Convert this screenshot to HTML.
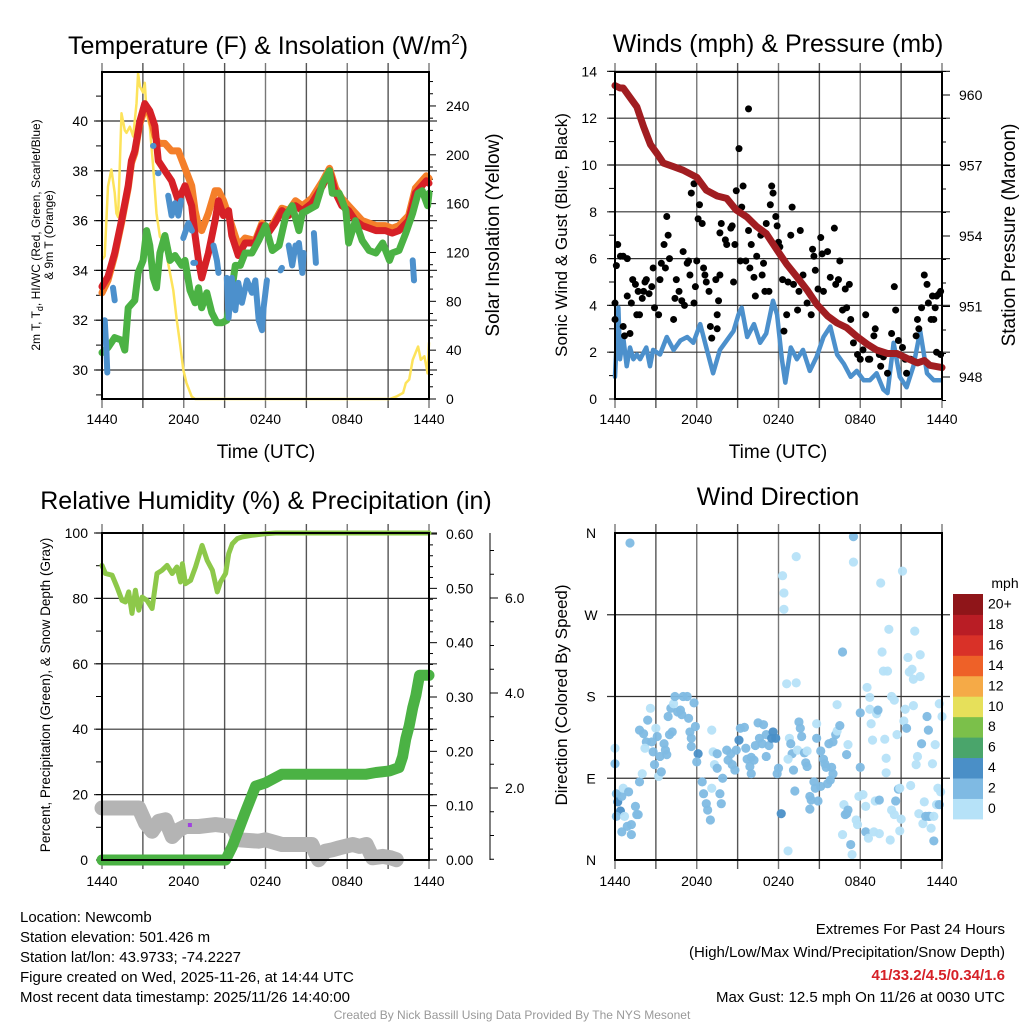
<!DOCTYPE html>
<html><head><meta charset="utf-8"><style>
html,body{margin:0;padding:0;background:#fff;}
svg{display:block;font-family:"Liberation Sans",Arial,sans-serif;}
</style></head><body>
<svg id="c" width="1024" height="1024" viewBox="0 0 1024 1024" xmlns="http://www.w3.org/2000/svg">
<rect x="0" y="0" width="1024" height="1024" fill="#fff"/>
<text x="268" y="54" font-size="25" text-anchor="middle">Temperature (F) &amp; Insolation (W/m<tspan font-size="15" dy="-10">2</tspan><tspan dy="10">)</tspan></text>
<text x="778" y="52" font-size="25" text-anchor="middle">Winds (mph) &amp; Pressure (mb)</text>
<text x="266" y="509" font-size="25" text-anchor="middle">Relative Humidity (%) &amp; Precipitation (in)</text>
<text x="778" y="505" font-size="25" text-anchor="middle">Wind Direction</text>
<text transform="translate(40,235) rotate(-90)" font-size="12" text-anchor="middle">2m T, T<tspan font-size="9" dy="3">d</tspan><tspan dy="-3">, HI/WC (Red, Green, Scarlet/Blue)</tspan></text>
<text transform="translate(53,235) rotate(-90)" font-size="12" text-anchor="middle">&amp; 9m T (Orange)</text>
<text transform="translate(499,235) rotate(-90)" font-size="19" text-anchor="middle">Solar Insolation (Yellow)</text>
<text x="266" y="458" font-size="19" text-anchor="middle">Time (UTC)</text>
<text transform="translate(567,235) rotate(-90)" font-size="17" text-anchor="middle">Sonic Wind &amp; Gust (Blue, Black)</text>
<text transform="translate(1015,235) rotate(-90)" font-size="19" text-anchor="middle">Station Pressure (Maroon)</text>
<text x="778" y="458" font-size="19" text-anchor="middle">Time (UTC)</text>
<text transform="translate(50,695) rotate(-90)" font-size="13.5" text-anchor="middle">Percent, Precipitation (Green), &amp; Snow Depth (Gray)</text>
<text transform="translate(567,695) rotate(-90)" font-size="17" text-anchor="middle">Direction (Colored By Speed)</text>
<text x="1005" y="588" font-size="14" text-anchor="middle">mph</text>
<g font-size="15">
<text x="20" y="922">Location: Newcomb</text>
<text x="20" y="942">Station elevation: 501.426 m</text>
<text x="20" y="962">Station lat/lon: 43.9733; -74.2227</text>
<text x="20" y="982">Figure created on Wed, 2025-11-26, at 14:44 UTC</text>
<text x="20" y="1002">Most recent data timestamp: 2025/11/26 14:40:00</text>
</g>
<g font-size="15" text-anchor="end">
<text x="1005" y="934">Extremes For Past 24 Hours</text>
<text x="1005" y="957">(High/Low/Max Wind/Precipitation/Snow Depth)</text>
<text x="1005" y="980" font-weight="bold" fill="#d62027">41/33.2/4.5/0.34/1.6</text>
<text x="1005" y="1002">Max Gust: 12.5 mph On 11/26 at 0030 UTC</text>
</g>
<text x="512" y="1019" font-size="12" fill="#999" text-anchor="middle">Created By Nick Bassill Using Data Provided By The NYS Mesonet</text>
</svg>
<script>
// ---- Temperature panel data (hours since 1440 UTC) ----
const redH=[0,0.44,0.93,1.43,1.92,2.16,2.41,2.78,3.14,3.51,3.88,4.13,4.62,5.11,5.6,6.09,6.58,6.83,7.08,7.32,7.81,8.3,8.55,8.92,9.29,9.53,10.0,10.5,11.25,11.74,12.2,12.7,13.2,13.7,14.2,14.7,15.4,16.2,16.7,17.15,17.6,18.1,18.6,19.1,20.1,20.8,21.3,21.8,22.5,23.0,23.8,24.0];
const redT=[33.35,33.75,34.7,36.0,37.4,38.4,38.8,40.0,40.7,40.4,39.8,38.4,38.0,37.6,36.8,37.4,36.6,35.4,34.4,33.7,34.7,36.0,36.8,36.2,36.4,35.4,34.6,35.1,35.1,35.8,35.5,35.9,36.4,36.2,36.6,36.4,36.7,37.4,38.0,37.1,36.6,36.4,36.0,35.8,35.6,35.6,35.5,35.6,36.0,37.1,37.6,37.5];
const orangeH=[0,0.44,0.93,1.43,1.92,2.16,2.41,2.78,3.14,3.51,3.88,4.13,4.62,5.11,5.6,6.09,6.58,6.83,7.08,7.32,7.81,8.3,8.55,8.92,9.29,9.53,10.0,10.5,11.25,11.74,12.2,12.7,13.2,13.7,14.2,14.7,15.4,16.2,16.7,17.15,17.6,18.1,18.6,19.1,20.1,20.8,21.3,21.8,22.5,23.0,23.8,24.0];
const orangeT=[33.1,33.6,34.6,35.9,37.3,38.3,38.7,39.9,40.5,40.3,39.4,39.1,39.1,38.8,38.8,38.1,37.4,36.4,35.8,35.6,36.3,37.2,37.2,36.8,36.2,35.8,35.0,35.3,35.2,35.9,35.6,36.0,36.5,36.4,36.8,36.6,36.9,37.6,38.1,37.3,36.9,36.6,36.3,36.0,35.8,35.8,35.7,35.8,36.2,37.3,37.8,37.7];
const greenH=[0,0.44,0.93,1.43,1.67,1.92,2.41,2.65,3.02,3.27,3.51,3.76,4.0,4.25,4.62,4.99,5.36,5.85,6.09,6.46,6.83,7.08,7.32,7.69,8.06,8.43,8.8,9.16,9.53,9.78,10.15,10.5,11.0,11.5,12.0,12.5,13.0,13.5,13.96,14.45,14.7,15.06,15.7,16.2,16.7,16.9,17.4,17.9,18.1,18.6,19.1,19.6,20.1,20.6,21.1,21.3,21.8,22.3,22.8,23.2,23.5,23.9,24.0];
const greenT=[30.7,30.9,31.3,31.2,30.8,32.5,32.8,33.9,34.4,35.6,35.0,33.7,33.3,34.7,35.4,34.4,34.6,34.2,34.4,33.2,32.7,33.3,32.5,33.1,32.3,31.9,31.9,32.0,33.2,34.2,34.2,34.7,34.7,35.2,35.8,34.8,35.0,36.2,36.6,35.6,36.3,36.4,36.6,37.5,38.0,37.1,37.1,36.4,35.1,36.0,35.2,34.8,34.7,35.1,34.4,34.7,34.8,35.5,36.3,37.1,37.2,36.6,37.1];
const blueH=[0.2,0.32,0.39,null,0.81,0.93,null,3.74,3.78,null,4.11,4.15,null,4.86,5.11,5.36,5.6,5.8,null,5.97,6.34,6.6,null,6.7,6.83,null,8.18,8.43,8.55,null,9.16,9.29,9.53,9.78,10.0,10.27,10.64,11.0,11.25,11.5,11.74,11.86,12.1,null,13.1,13.2,null,13.7,13.96,14.2,null,14.45,14.7,14.8,null,15.55,15.7,null,22.8,22.9];
const blueT=[32.0,30.8,29.9,null,33.3,32.8,null,39.0,39.0,null,37.9,37.9,null,37.0,36.2,36.7,36.2,36.8,null,35.3,35.9,35.6,null,34.3,34.3,null,35.0,34.4,33.9,null,33.7,32.1,33.7,32.4,33.5,32.7,33.6,33.1,33.6,32.0,31.6,32.5,33.6,null,34.0,34.1,null,35.0,34.2,35.0,null,35.1,33.9,34.7,null,35.5,34.3,null,34.4,33.6];
const solarH=[0,0.2,0.44,0.69,0.93,1.06,1.18,1.43,1.67,1.8,2.04,2.29,2.53,2.65,2.78,3.02,3.14,3.27,3.51,3.76,4.0,4.25,4.62,4.86,5.23,5.48,5.72,5.97,6.2,6.58,6.83,21.1,21.6,22.1,22.3,22.55,22.8,23.2,23.4,23.66,23.9,24.0];
const solarW=[114,117,174,188,169,152,149,234,220,218,223,215,242,267,256,251,259,234,223,190,152,133,128,111,89,65,46,24,13,2,0,0,2,5,13,16,32,43,32,35,21,46];
const tempTicks=[30,32,34,36,38,40];
const solarTicks=[0,40,80,120,160,200,240];
const timeLabels=["1440","2040","0240","0840","1440"];
// ---- Wind panel data ----
const presH=[0,0.37,0.6,1.1,1.6,2.1,2.6,3.1,3.55,4.3,5.0,6.0,6.7,7.5,8.2,8.9,9.7,10.4,11.1,11.9,12.6,13.3,14.1,14.8,15.6,16.3,17.0,17.8,18.5,19.2,20.0,20.7,21.4,22.2,22.7,23.1,24];
const presMb=[960.4,960.3,960.3,959.9,959.5,958.65,957.9,957.5,957.1,956.95,956.8,956.5,955.95,955.7,955.6,955.1,954.8,954.4,954.1,953.4,952.8,952.3,951.7,951.1,950.6,950.3,950.1,949.7,949.4,949.15,949.0,949.0,948.8,948.6,948.7,948.5,948.4];
const windH=[0,0.12,0.25,0.37,0.6,0.86,1.1,1.35,1.6,1.84,2.3,2.57,2.8,3.3,3.8,4.3,4.8,5.3,5.75,6.25,6.7,7.2,7.7,8.2,8.7,9.06,9.3,9.7,10.2,10.65,11.1,11.6,11.9,12.25,12.5,12.9,13.35,13.8,14.3,14.8,15.3,15.8,16.3,16.8,17.3,17.75,18.25,18.7,19.2,19.7,20.0,20.45,20.9,21.4,21.9,22.4,22.9,23.4,23.9];
const windMph=[0.95,2.4,3.9,1.7,2.65,1.4,2.2,1.7,1.9,1.7,2.2,1.4,2.1,1.9,2.65,2.1,2.5,2.65,2.4,3.2,2.2,1.1,2.1,2.5,2.9,3.6,3.9,2.65,3.2,2.4,2.8,4.2,3.6,1.7,0.7,2.2,1.7,2.1,1.2,1.8,2.65,3.1,1.9,1.5,0.95,1.2,0.8,0.8,1.1,0.4,0.25,2.4,0.95,0.5,1.4,2.9,1.1,0.8,0.8];
const gustH=[0,0,0.1,0.2,0.4,0.6,0.9,0.6,0.7,0.9,1.1,1.2,1.3,1.5,1.6,1.7,1.8,2.0,2.1,2.2,2.3,2.5,2.7,2.8,2.9,3.2,3.3,3.4,3.6,3.7,3.8,3.9,4.0,4.3,4.4,4.5,4.7,4.9,5.0,5.1,5.3,5.4,5.5,5.6,5.8,5.8,5.9,6.0,6.1,6.2,6.4,6.5,6.6,6.7,6.9,7.0,7.1,7.4,7.5,7.6,7.7,7.5,7.7,7.8,8.1,8.2,8.5,8.6,8.7,8.8,8.9,9.1,9.2,9.3,9.4,9.6,9.8,9.8,9.9,10.0,10.2,10.3,10.4,10.7,10.8,10.9,11.0,11.1,11.3,11.4,11.5,11.6,11.8,11.9,12.0,12.1,12.3,12.4,12.6,12.7,12.9,13.0,13.1,13.4,13.5,13.6,13.8,14.1,14.4,14.5,14.6,14.7,14.9,15.1,15.2,15.3,15.6,15.8,16.1,16.2,16.4,16.5,16.7,16.9,17.0,17.2,17.3,17.5,17.8,18.0,18.2,18.4,18.6,18.7,19.0,19.1,19.4,19.5,19.7,20.0,20.3,20.5,20.6,20.8,21.1,21.3,21.4,21.7,22.1,22.2,22.3,22.5,22.7,22.9,23.0,23.2,23.3,23.4,23.5,23.6,23.8,23.9,23.6,23.9];
const gustMph=[3.4,4.1,5.7,6.6,6.1,6.1,6.0,3.1,2.7,4.4,2.8,4.1,5.1,4.9,3.6,4.6,3.6,4.3,4.6,5.0,5.1,4.5,4.8,5.6,3.9,3.6,5.1,5.8,6.6,5.6,7.8,7.0,6.0,3.4,4.3,5.1,4.6,4.2,6.3,4.0,5.8,5.9,5.3,8.8,9.2,4.1,4.8,5.9,7.7,8.3,7.5,5.6,5.3,5.0,4.6,3.1,2.6,5.1,3.0,4.2,5.3,3.6,7.1,7.5,6.8,6.6,7.3,7.4,5.0,6.6,8.9,10.7,5.9,8.2,9.1,5.9,12.4,7.2,5.6,6.6,5.2,4.4,6.1,7.0,5.3,5.8,4.6,7.5,4.6,8.3,9.1,8.8,7.8,7.4,6.7,6.5,5.1,2.9,3.6,5.0,7.0,8.2,4.9,3.8,4.6,7.2,5.3,4.1,3.6,6.4,6.1,5.5,4.7,6.9,6.2,4.6,6.3,5.2,7.3,4.9,5.1,5.9,3.8,4.7,3.9,4.9,3.4,2.4,1.9,1.7,2.1,3.6,1.7,1.7,2.7,3.0,1.9,1.4,1.8,1.1,2.8,4.8,3.8,2.5,2.2,1.7,1.1,1.7,2.7,3.4,3.0,3.9,5.3,4.9,4.1,3.4,4.4,3.4,3.9,4.4,4.5,4.6,2.0,1.9];
const windTicks=[0,2,4,6,8,10,12,14];
const presTicks=[948,951,954,957,960];
// ---- RH panel data ----
const rhH=[0,0.25,0.74,1.1,1.47,1.72,1.96,2.2,2.45,2.7,2.94,3.3,3.68,4.04,4.4,4.78,5.15,5.5,5.76,5.9,6.13,6.5,6.86,7.35,7.72,8.1,8.46,8.7,9.07,9.3,9.56,9.93,10.3,11.0,12.0,12.75,24];
const rhPct=[90.1,87.6,87.1,83.5,79.4,78.9,82.0,75.4,82.5,76.4,80.4,79.4,76.9,87.6,88.6,90.1,87.6,89.6,85.0,90.6,84.5,85.5,89.6,96.2,91.6,88.6,82.0,85.0,87.6,93.7,96.7,98.3,98.8,99.3,99.8,100,100];
const precipH=[0,9.07,9.56,10.5,11.27,12.0,13.2,14.46,19.4,20.1,21.1,21.8,22.06,22.3,22.55,22.8,23.04,23.3,24];
const precipIn=[0,0,0.025,0.087,0.136,0.142,0.158,0.158,0.158,0.161,0.164,0.17,0.19,0.223,0.247,0.28,0.303,0.34,0.34];
const snowH=[0,2.7,3.19,3.68,4.17,4.66,5.15,5.64,6.13,7.1,8.33,9.56,10.05,11.5,12.0,13.2,15.4,15.9,16.4,16.9,17.4,18.4,18.9,19.4,19.85,20.6,21.2,21.6];
const snowIn=[1.58,1.58,1.26,1.09,1.30,1.33,0.98,1.12,1.19,1.19,1.23,1.19,0.91,0.88,0.91,0.81,0.81,0.49,0.67,0.70,0.74,0.81,0.77,0.81,0.53,0.56,0.53,0.49];
const pctTicks=[0,20,40,60,80,100];
const precipTicks=[0,0.1,0.2,0.3,0.4,0.5,0.6];
const snowTicks=[2,4,6];
// ---- Wind direction data ----
const dirH=[1.1,0,0,0.1,0.2,0.4,0.1,0.5,0.6,1.0,0.7,0.5,0.9,1.2,1.2,1.5,1.6,1.7,1.8,2.0,1.8,2.1,2.3,2.2,2.4,2.6,2.7,2.8,2.9,3.0,3.1,3.2,3.4,3.3,3.6,3.7,3.8,3.9,4.0,4.2,4.1,4.3,4.4,4.6,4.8,4.9,5.0,5.3,5.4,5.5,5.6,5.6,5.8,5.9,6.1,6.0,6.4,6.5,6.7,6.8,7.0,7.1,7.2,7.3,7.1,7.5,7.5,7.7,7.8,7.9,8.2,8.3,8.5,8.6,8.8,8.9,9.1,9.2,9.5,9.6,9.7,9.9,10.0,10.2,10.0,10.3,10.5,10.6,10.8,10.9,11.1,11.1,11.3,11.5,11.6,11.8,11.9,12.0,12.2,12.3,12.4,12.4,12.6,12.8,12.9,13.0,12.7,13.1,13.2,13.3,13.3,13.5,13.6,13.7,13.4,13.9,14.1,14.0,14.1,14.3,14.4,14.3,14.6,14.7,14.8,14.8,14.9,15.1,15.1,15.3,15.4,15.5,15.6,15.7,15.8,15.9,16.0,16.0,16.2,16.3,16.3,16.5,16.7,16.8,17.0,16.9,17.1,17.0,17.1,16.7,17.3,17.4,17.5,17.5,17.7,17.8,17.9,18.0,18.0,18.2,18.4,18.4,18.5,18.6,18.7,18.7,18.8,18.9,19.0,19.1,19.2,19.3,19.4,19.4,19.5,19.6,19.7,19.8,19.9,19.9,20.0,20.1,20.2,20.3,20.3,20.5,20.5,20.6,20.7,20.8,20.9,20.9,21.0,21.1,21.2,21.3,21.4,21.5,21.6,21.7,21.8,21.9,21.9,22.0,22.1,22.2,22.3,22.4,22.4,22.5,22.6,22.7,22.8,22.9,23.0,23.0,23.1,23.2,23.3,23.4,23.4,23.5,23.6,23.7,23.8,23.8,23.9,24.0,12.7];
const dirDeg=[349,123,106,73,64,54,48,70,79,75,48,31,37,39,28,59,50,50,86,95,143,139,130,123,154,167,130,119,105,145,136,92,97,114,128,121,116,158,138,141,167,172,180,163,165,160,180,180,156,141,134,125,173,147,117,108,86,73,62,55,44,143,119,105,79,117,101,73,62,90,121,110,117,105,99,121,132,145,146,123,111,103,113,110,95,126,151,134,128,149,138,114,126,134,141,134,95,101,51,313,294,276,194,134,128,117,111,99,76,195,334,152,145,136,121,118,120,107,103,70,66,56,86,79,134,150,65,81,120,111,106,102,84,128,88,102,95,130,138,171,142,148,229,61,51,50,55,116,127,28,17,6,356,328,44,39,70,162,102,72,59,31,190,24,179,166,150,132,31,65,161,165,29,66,305,229,208,133,112,96,208,254,22,55,180,176,50,65,138,78,32,79,45,318,153,166,145,223,207,82,210,199,170,252,105,114,51,202,226,128,40,64,48,158,143,48,48,35,106,48,21,127,61,79,172,61,75,158,10];
const dirSpd=[3,1,3,3,5,5,3,3,1,3,1,3,3,3,3,3,3,3,3,1,3,3,3,1,3,1,3,3,3,1,3,1,3,3,3,3,3,3,3,3,3,1,3,3,3,3,3,3,3,3,3,3,3,3,5,3,3,3,3,3,3,1,1,1,1,3,3,3,3,3,3,3,3,3,3,3,5,3,3,3,3,3,3,3,3,3,3,3,3,3,3,3,3,5,5,5,3,3,5,1,1,1,1,1,3,3,1,3,3,1,1,3,3,3,1,3,1,3,3,3,3,3,3,3,3,1,3,3,3,3,3,3,3,3,3,3,3,3,3,1,1,3,3,1,3,3,3,3,1,1,3,1,3,1,1,1,1,3,3,1,1,3,1,1,1,1,1,1,1,1,1,3,1,3,1,1,1,1,1,1,1,1,1,1,1,1,1,3,1,3,1,1,1,1,1,1,3,1,1,1,1,1,1,1,1,1,1,1,1,3,1,1,3,3,3,3,3,1,1,1,3,1,1,1,1,3,1,1,1,1,1,1];
const dirLabels=["N","E","S","W","N"];
const cbLabels=["0","2","4","6","8","10","12","14","16","18","20+"];
const cbColors=["#b6e2f8","#7fbae3","#4a8fc7","#4aa56b","#7bc04a","#e6e05a","#f5aa47","#ee6128","#d93128","#b91d25","#8f1519"];

const svg=document.getElementById('c');
const NS="http://www.w3.org/2000/svg";
function mk(tag,attrs){const e=document.createElementNS(NS,tag);for(const k in attrs)e.setAttribute(k,attrs[k]);svg.appendChild(e);return e;}
function pathFrom(xs,ys,fx,fy){let d="",pen=false;for(let i=0;i<xs.length;i++){if(xs[i]===null||ys[i]===null){pen=false;continue;}d+=(pen?"L":"M")+fx(xs[i]).toFixed(1)+","+fy(ys[i]).toFixed(1);pen=true;}return d;}

const P1={x0:102,x1:429,top:72,bot:399};
const P2={x0:615,x1:942,top:72,bot:399};
const P3={x0:102,x1:429,top:533,bot:860};
const P4={x0:615,x1:942,top:533,bot:860};
const xT=h=>P1.x0+h*(P1.x1-P1.x0)/24;
const xW=h=>P2.x0+h*(P2.x1-P2.x0)/24;
const yTemp=t=>370-(t-30)*24.9;
const ySolar=w=>399-w*1.221;
const yWind=w=>399-w*23.4;
const yPres=p=>95+(960-p)*23.5;
const yPct=v=>860-v*3.27;
const yPrecip=r=>860-r*543.3;
const ySnow=s=>883-s*47.5;
const yDir=d=>860-d*0.9083;

function grid(P,yLines,name){
  for(let k=0;k<=8;k++){const x=P.x0+k*(P.x1-P.x0)/8;
    const l=mk('line',{x1:x,y1:P.top-9,x2:x,y2:P.bot+9,stroke:(k%2?'#555':'#777'),'stroke-width':1.4});
    
    }
  yLines.forEach(y=>{const l=mk('line',{x1:P.x0-8,y1:y,x2:P.x1+8,y2:y,stroke:'#333','stroke-width':1.2});
    
    });
}
function frame(P,name){const r=mk('rect',{x:P.x0,y:P.top,width:P.x1-P.x0,height:P.bot-P.top,fill:'none',stroke:'#000','stroke-width':2});
  
  }
function txt(x,y,s,size,anchor,name){const t=mk('text',{x:x,y:y,'font-size':size,'text-anchor':anchor});t.textContent=s;
  
  return t;}
function tick(x1,y1,x2,y2,name){const l=mk('line',{x1:x1,y1:y1,x2:x2,y2:y2,stroke:'#000','stroke-width':1});
  
  }
function line(xs,ys,fx,fy,color,w,name){const p=mk('path',{d:pathFrom(xs,ys,fx,fy),fill:'none',stroke:color,'stroke-width':w,'stroke-linejoin':'round','stroke-linecap':'round'});
  
  }
function xLabels(P,y,name){timeLabels.forEach((s,i)=>txt(P.x0+i*(P.x1-P.x0)/4,y,s,14,'middle',name));}

// ===== Panel 1 =====
grid(P1,tempTicks.map(yTemp),'temp');
for(let t=29;t<=41;t++){tick(P1.x0-6,yTemp(t),P1.x0,yTemp(t),'temp-minor-tick');}
for(let w=0;w<=260;w+=10){tick(P1.x1,ySolar(w),P1.x1+(w%40?4:7),ySolar(w),'solar-tick');}
tempTicks.forEach(t=>txt(88,yTemp(t)+5,String(t),14,'end','temp-tick-label'));
solarTicks.forEach(w=>txt(446,ySolar(w)+5,String(w),14,'start','solar-tick-label'));
xLabels(P1,424,'temp-x-tick-label');
line(solarH,solarW,xT,ySolar,'#fde35b',2.5,'solar-insolation-line');
line(orangeH,orangeT,xT,yTemp,'#f47f2a',7,'temp-9m-line');
line(redH,redT,xT,yTemp,'#d62027',7,'temp-2m-line');
line(greenH,greenT,xT,yTemp,'#4bb244',7,'dewpoint-line');
line(blueH,blueT,xT,yTemp,'#4c90cc',6,'heat-index-windchill-line');
frame(P1,'temp');

// ===== Panel 2 =====
grid(P2,windTicks.slice(1).map(yWind),'wind');
for(let w=0;w<=14;w+=1){tick(P2.x0-6,yWind(w),P2.x0,yWind(w),'wind-minor-tick');}
for(let p=947;p<=961;p++){tick(P2.x1,yPres(p),P2.x1+(p%3?4:8),yPres(p),'pressure-tick');}
windTicks.forEach(w=>txt(597,yWind(w)+5,String(w),14,'end','wind-tick-label'));
presTicks.forEach(p=>txt(959,yPres(p)+5,String(p),14,'start','pressure-tick-label'));
xLabels(P2,424,'wind-x-tick-label');
line(windH,windMph,xW,yWind,'#4c90cc',4.5,'sonic-wind-line');
for(let i=0;i<gustH.length;i++){const c=mk('circle',{cx:xW(gustH[i]),cy:yWind(gustMph[i]),r:3.5,fill:'#000'});
  
  }
line(presH,presMb,xW,yPres,'#a11d21',7,'pressure-line');
frame(P2,'wind');

// ===== Panel 3 =====
grid(P3,pctTicks.slice(1).map(yPct),'rh');
for(let v=0;v<=100;v+=10){tick(P3.x0-6,yPct(v),P3.x0,yPct(v),'pct-minor-tick');}
for(let r=0;r<=0.6001;r+=0.02){tick(P3.x1,yPrecip(r),P3.x1+(Math.round(r*100)%10?4:8),yPrecip(r),'precip-tick');}
pctTicks.forEach(v=>txt(88,yPct(v)+5,String(v),14,'end','pct-tick-label'));
precipTicks.forEach(r=>txt(446,yPrecip(r)+5,r.toFixed(2),14,'start','precip-tick-label'));
tick(490,P3.top,490,P3.bot,'snow-axis-line');
for(let s=0.5;s<=7.01;s+=0.5){const y=ySnow(s);if(y>=P3.top&&y<=P3.bot)tick(490,y,Number.isInteger(s/2)?498:494,y,'snow-tick');}
snowTicks.forEach(s=>txt(505,ySnow(s)+5,s.toFixed(1),14,'start','snow-tick-label'));
xLabels(P3,886,'rh-x-tick-label');
line(snowH,snowIn,xT,ySnow,'#b4b4b4',15,'snow-depth-line');
line(rhH,rhPct,xT,yPct,'#8dc84a',5,'rh-line');
line(precipH,precipIn,xT,yPrecip,'#4bb244',11,'precip-line');
const pd=mk('rect',{x:xT(6.45)-2,y:yPct(10.7)-2,width:4,height:4,fill:'#a040e0'});


frame(P3,'rh');

// ===== Panel 4 =====
grid(P4,[1,2,3].map(i=>yDir(i*90)),'dir');
dirLabels.forEach((s,i)=>txt(591,yDir(i*90)+5,s,14,'middle','direction-tick-label'));
xLabels(P4,886,'dir-x-tick-label');
function spdColor(s){return cbColors[Math.min(10,Math.floor(s/2))];}
for(let i=0;i<dirH.length;i++){const c=mk('circle',{cx:xW(dirH[i]),cy:yDir(dirDeg[i]),r:4.6,fill:spdColor(dirSpd[i]),'fill-opacity':0.95});
  
  }
frame(P4,'dir');
for(let i=0;i<cbColors.length;i++){const r=mk('rect',{x:953,y:594+(10-i)*20.45,width:30,height:20.9,fill:cbColors[i]});
  
  
  txt(988,813-i*20.45,cbLabels[i],14,'start','colorbar-label');}
</script>
</body></html>
